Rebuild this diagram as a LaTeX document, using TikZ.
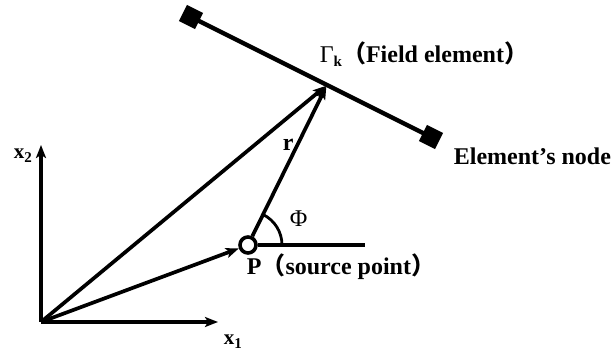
\documentclass[tikz,border=0pt]{standalone}
\usepackage{fontspec}
\setmainfont{Liberation Serif}
\newfontfamily\cjk{Noto Sans CJK SC}
\usetikzlibrary{arrows.meta}
\newcommand{\mysub}[2]{\raisebox{-#2}{\fontsize{15}{15}\selectfont #1}}
\begin{document}
\begin{tikzpicture}[x=1pt,y=-1pt,line width=3.7pt,
  arr/.style={-{Stealth[length=13pt,width=10pt,inset=3pt]}},
  lab/.style={font=\bfseries\fontsize{24}{26}\selectfont,inner sep=0pt,anchor=base west},
  axlab/.style={font=\bfseries\fontsize{21}{23}\selectfont,inner sep=0pt,anchor=base west},
  endsq/.style={draw=none,fill=black,minimum size=18pt,inner sep=0pt,rotate=-26.8},
  srcpt/.style={circle,draw,line width=3.6pt,fill=white,minimum size=16pt,inner sep=0pt}]
\useasboundingbox (0,0) rectangle (611,352);
\coordinate (O) at (41,322);
\coordinate (X1) at (218,322);
\coordinate (X2) at (41,145);
\coordinate (Q) at (327,85);
\coordinate (H) at (365,245);
\node[endsq] (S1) at (191,17) {};
\node[endsq] (S2) at (431,137) {};
\draw[line width=4.3pt] (S1.center) -- (S2.center);
\node[srcpt] (P) at (248,245) {};
\draw[arr] (O) -- (X1);
\draw[arr] (O) -- (X2);
\draw[arr,shorten >=1.5pt] (O) -- (Q);
\draw[arr] (O) -- (P);
\draw[arr,shorten >=1.5pt] (P) -- (Q);
\draw[line width=3.2pt] (P) -- (H);
\draw[line width=2.8pt] (P.center) ++(34,0) arc[start angle=0,end angle=-63.7,radius=34];
\node[lab] (G) at (318,63) {{\mdseries Γ}\mysub{k}{4pt}{\cjk （}Field element{\cjk ）}};
\node[lab] (EN) at (452,165) {Element’s node};
\node[lab] (PL) at (245,275) {P{\cjk （}source point{\cjk ）}};
\node[axlab] (XL2) at (12,159) {x\mysub{2}{4pt}};
\node[axlab] (XL1) at (222,345) {x\mysub{1}{4pt}};
\node[lab] (RL) at (281,151) {r};
\node[lab] (PHI) at (288,227) {\mdseries Φ};
\end{tikzpicture}
\end{document}
